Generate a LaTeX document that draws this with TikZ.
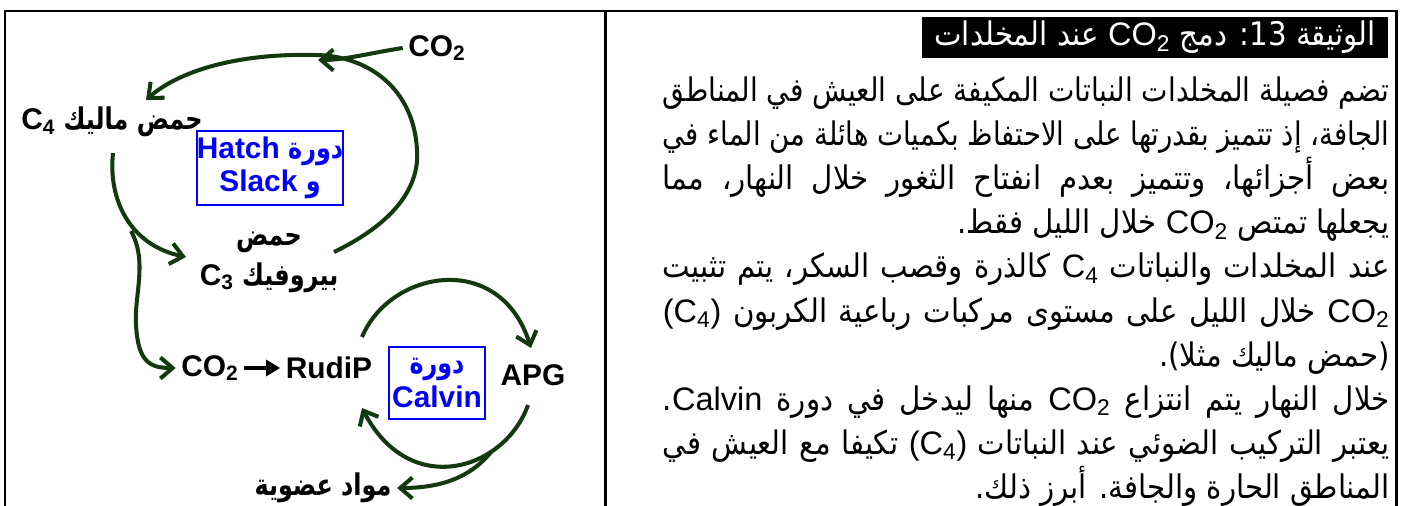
\documentclass[tikz,border=0pt]{standalone}
\usepackage{graphicx}
\usepackage{fontspec}
\setmainfont{Liberation Sans}
\newfontfamily\arabicfont[Script=Arabic,FakeStretch=0.9]{DejaVu Sans}
\newfontfamily\diagar[Script=Arabic,FakeStretch=0.8]{DejaVu Sans}
\TeXXeTstate=1
\usetikzlibrary{arrows.meta,positioning}
\definecolor{dkgreen}{RGB}{18,58,14}
\newlength\jw
\setlength\jw{14.54cm}
\newsavebox\jbox
\newcommand\lat[1]{\beginL{\rmfamily #1}\endL}
\newcommand\low[1]{\textsubscript{#1}}
\newcommand\jline[1]{\sbox\jbox{\beginR #1\endR}%
  \ifdim\wd\jbox>\jw\resizebox{\jw}{\ht\jbox}{\usebox\jbox}\else\makebox[\jw][s]{\beginR #1\endR}\fi}
\tikzset{lbl/.style={font=\fontsize{17}{22.7}\selectfont\bfseries,inner sep=3pt},
  cycbox/.style={draw=blue,line width=1.1pt,text=blue,align=center,font=\fontsize{17}{19}\selectfont\bfseries,inner sep=0pt},
  flow/.style={->,draw=dkgreen,line width=2.3pt},
  txtline/.style={anchor=base east,inner sep=0pt,font=\arabicfont\fontsize{18.5}{22}\selectfont}}

\begin{document}
\begin{tikzpicture}[x=0.02cm,y=-0.02cm,>={Straight Barb[length=7pt,width=12pt]}]
    \useasboundingbox (0,0) rectangle (1402,506);
    % frame
    \draw[line width=1.7pt] (5,506) -- (5,11) -- (1396,11) -- (1396,506);
    \draw[line width=1.7pt] (605,11) -- (605,506);

    % Hatch and Slack
    \node[lbl] (co2top) at (437,48) {CO\low{2}};
    \node[lbl] (malik) at (112,122) {\diagar\beginR حمض ماليك \lat{C\low{4}}\endR};
    \node[cycbox,minimum width=2.9cm,minimum height=1.48cm] (hatch) at (270,168)
        {\diagar\beginR دورة \lat{Hatch}\endR\\\diagar\beginR و \lat{Slack}\endR};
    \node[lbl,align=center] (pyr) at (269,262) {\diagar\beginR حمض\endR\\\diagar\beginR بيروفيك \lat{C\low{3}}\endR};

    % Calvin
    \node[lbl] (co2b) at (210,368) {CO\low{2}};
    \node[lbl] (rudip) at (329,368) {RudiP};
    \node[cycbox,minimum width=1.92cm,minimum height=1.44cm] (calvin) at (437,383)
        {\diagar\beginR دورة\endR\\Calvin};
    \node[lbl] (apg) at (533,375) {APG};
    \node[lbl] (organic) at (323,488) {\diagar\beginR مواد عضوية\endR};

    \coordinate (join) at (318,60);
    \coordinate (loopstart) at (334,252);
    \coordinate (loopright) at (417,150);
    \coordinate (looptop) at (316,55);
    \coordinate (loopend) at (146,100);
    \coordinate (malikout) at (113,153);
    \coordinate (pyrin) at (186,257);
    \coordinate (fork) at (131,231);
    \coordinate (rudipout) at (362,337);
    \coordinate (apgin) at (531,348);
    \coordinate (apgout) at (528,405);
    \coordinate (rudipin) at (362,408);
    \coordinate (fork2) at (491,452);

    \draw[flow] (co2top.west) .. controls (370,53) and (345,60) .. (join);
    \draw[flow] (loopstart) .. controls (390,225) and (420,190) .. (loopright)
        .. controls (414,90) and (370,56) .. (looptop)
        .. controls (240,53) and (180,70) .. (loopend);
    \draw[flow] (malikout) .. controls (108,200) and (130,245) .. (pyrin);
    \draw[flow] (fork) .. controls (148,262) and (134,295) .. (136,325)
        .. controls (138,362) and (150,368) .. (co2b.west);
    \draw[-{Triangle[length=8pt,width=9pt]},line width=2.4pt] (co2b) -- (rudip);
    \draw[flow] (rudipout) .. controls (390,270) and (500,250) .. (apgin);
    \draw[flow] (apgout) .. controls (505,470) and (410,500) .. (rudipin);
    \draw[flow] (fork2) .. controls (470,478) and (440,488) .. (organic.east);

    % text
    \node[fill=black,text=white,minimum width=9.32cm,minimum height=0.82cm,inner sep=0pt,
        font=\arabicfont\fontsize{18.5}{20}\selectfont] (title) at (1155,37.5)
        {\beginR الوثيقة \beginL 13\endL: دمج \lat{CO\low{2}} عند المخلدات\endR};
    \node[txtline] (l1) at (1390,102) {\jline{تضم فصيلة المخلدات النباتات المكيفة على العيش في المناطق}};
    \node[txtline] (l2) at (1390,146) {\jline{الجافة، إذ تتميز بقدرتها على الاحتفاظ بكميات هائلة من الماء في}};
    \node[txtline] (l3) at (1390,190) {\jline{بعض أجزائها، وتتميز بعدم انفتاح الثغور خلال النهار، مما}};
    \node[txtline] (l4) at (1390,234) {\beginR يجعلها تمتص \lat{CO\low{2}} خلال الليل فقط.\endR};
    \node[txtline] (l5) at (1390,278) {\jline{عند المخلدات والنباتات \lat{C\low{4}} كالذرة وقصب السكر، يتم تثبيت}};
    \node[txtline] (l6) at (1390,322) {\jline{\lat{CO\low{2}} خلال الليل على مستوى مركبات رباعية الكربون \lat{(C\low{4})}}};
    \node[txtline] (l7) at (1390,366) {\beginR(حمض ماليك مثلا).\endR};
    \node[txtline] (l8) at (1390,410) {\jline{خلال النهار يتم انتزاع \lat{CO\low{2}} منها ليدخل في دورة \lat{Calvin}.}};
    \node[txtline] (l9) at (1390,454) {\jline{يعتبر التركيب الضوئي عند النباتات \lat{(C\low{4})} تكيفا مع العيش في}};
    \node[txtline] (l10) at (1390,498) {\beginR المناطق الحارة والجافة. أبرز ذلك.\endR};
\end{tikzpicture}
\end{document}
